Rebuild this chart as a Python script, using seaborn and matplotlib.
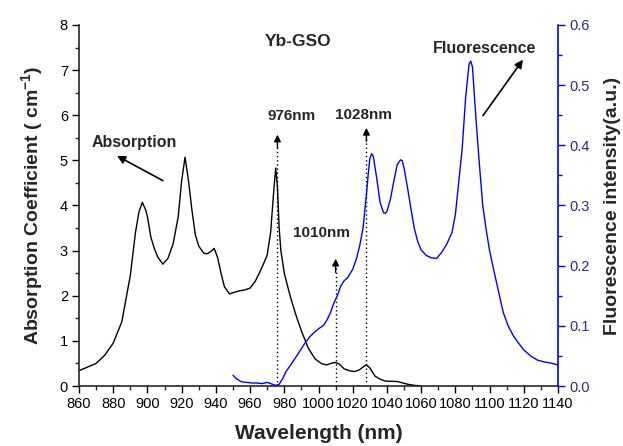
import matplotlib
matplotlib.use("Agg")
import matplotlib.pyplot as plt
import seaborn as sns
import pandas as pd
from matplotlib.ticker import MultipleLocator

# ---- data ----
abs_nm = [860, 865, 870, 875, 880, 885, 890, 893, 895, 897, 899, 900, 902, 904, 906, 909,
          912, 915, 918, 920, 922, 924, 926, 928, 930, 933, 935, 937, 939, 941, 943, 945,
          948, 951, 954, 957, 960, 963, 966, 968, 970, 972, 974, 975, 976, 977, 978, 980,
          982, 984, 987, 990, 994, 998, 1002, 1005, 1008, 1010, 1012, 1015, 1018, 1021,
          1024, 1026, 1028, 1030, 1033, 1036, 1039, 1042, 1046, 1049, 1052, 1056, 1060]
abs_val = [0.34, 0.42, 0.50, 0.68, 0.95, 1.42, 2.45, 3.40, 3.85, 4.07, 3.90, 3.75, 3.30, 3.05,
           2.86, 2.70, 2.83, 3.15, 3.75, 4.55, 5.07, 4.55, 3.90, 3.35, 3.10, 2.94, 2.93, 2.98,
           3.05, 2.85, 2.50, 2.20, 2.04, 2.08, 2.11, 2.13, 2.17, 2.32, 2.55, 2.72, 2.90, 3.40,
           4.40, 4.83, 4.40, 3.50, 3.00, 2.50, 2.20, 1.92, 1.55, 1.22, 0.84, 0.60, 0.49, 0.47,
           0.51, 0.52, 0.49, 0.38, 0.34, 0.32, 0.36, 0.42, 0.47, 0.40, 0.22, 0.15, 0.11, 0.105,
           0.10, 0.07, 0.04, 0.015, 0.0]

fl_nm = [950, 952, 955, 958, 961, 964, 967, 970, 972, 975, 977, 979, 981, 984, 987, 990, 992,
         995, 997, 1000, 1003, 1005, 1007, 1009, 1011, 1013, 1015, 1017, 1020, 1022, 1024,
         1026, 1028, 1029, 1030, 1031, 1032, 1034, 1036, 1038, 1039, 1040, 1042, 1044, 1046,
         1048, 1049, 1050, 1052, 1054, 1056, 1058, 1060, 1063, 1066, 1069, 1072, 1075, 1078,
         1080, 1082, 1084, 1086, 1088, 1089, 1090, 1092, 1094, 1096, 1098, 1100, 1102, 1105,
         1108, 1111, 1114, 1117, 1120, 1124, 1128, 1132, 1136, 1140]
fl_val = [0.018, 0.012, 0.007, 0.006, 0.005, 0.005, 0.004, 0.006, 0.004, 0.001, 0.003, 0.012,
          0.024, 0.036, 0.049, 0.062, 0.071, 0.082, 0.088, 0.095, 0.101, 0.110, 0.122, 0.138,
          0.150, 0.166, 0.175, 0.180, 0.194, 0.210, 0.232, 0.262, 0.318, 0.350, 0.378, 0.386,
          0.382, 0.346, 0.305, 0.288, 0.287, 0.290, 0.310, 0.340, 0.368, 0.376, 0.374, 0.362,
          0.330, 0.295, 0.262, 0.240, 0.226, 0.217, 0.213, 0.212, 0.222, 0.236, 0.255, 0.285,
          0.340, 0.395, 0.480, 0.535, 0.540, 0.530, 0.445, 0.370, 0.300, 0.260, 0.225, 0.198,
          0.160, 0.122, 0.099, 0.083, 0.071, 0.060, 0.050, 0.043, 0.040, 0.038, 0.035]

x_ticks = list(range(860, 1141, 20))
left_ticks = list(range(0, 9))
right_ticks = [0.0, 0.1, 0.2, 0.3, 0.4, 0.5, 0.6]

peaks = [976, 1010, 1028]
peak_labels = ["976nm", "1010nm", "1028nm"]

# ---- style ----
sns.set_style("ticks")
plt.rcParams["font.family"] = ["Liberation Sans", "DejaVu Sans"]
plt.rcParams["mathtext.fontset"] = "custom"
plt.rcParams["mathtext.rm"] = "Liberation Sans"
plt.rcParams["mathtext.bf"] = "Liberation Sans:bold"

fig = plt.figure(figsize=(6.23, 4.46), dpi=100)
ax = fig.add_axes([0.1268, 0.1345, 0.7689, 0.8095])
ax2 = ax.twinx()

df_abs = pd.DataFrame({"nm": abs_nm, "val": abs_val})
df_fl = pd.DataFrame({"nm": fl_nm, "val": fl_val})

sns.lineplot(data=df_abs, x="nm", y="val", ax=ax, color="black", lw=1.0,
             estimator=None, sort=False)
sns.lineplot(data=df_fl, x="nm", y="val", ax=ax2, color="#0000ff", lw=1.0,
             estimator=None, sort=False)

ax.set_xlim(860, 1140)
ax.set_ylim(0, 8)
ax2.set_ylim(0, 0.6)

ax.set_xticks(x_ticks)
ax.set_xticklabels([str(t) for t in x_ticks])
ax.xaxis.set_minor_locator(MultipleLocator(10))
ax.set_yticks(left_ticks)
ax.yaxis.set_minor_locator(MultipleLocator(0.5))
ax2.set_yticks(right_ticks)
ax2.set_yticklabels([f"{t:.1f}" for t in right_ticks])
ax2.yaxis.set_minor_locator(MultipleLocator(0.05))

ax.tick_params(axis="both", which="major", direction="out", length=5, width=1,
               labelsize=10.5, colors="black", pad=3)
ax.tick_params(axis="both", which="minor", direction="out", length=3, width=1)
ax2.tick_params(axis="y", which="major", direction="out", length=5, width=1,
                labelsize=10.5, color="#0000ff", labelcolor="#2a2a8a", pad=3)
ax2.tick_params(axis="y", which="minor", direction="out", length=3, width=1, color="#0000ff")

for s in ["top", "right"]:
    ax.spines[s].set_visible(False)
for s in ["top", "left", "bottom"]:
    ax2.spines[s].set_visible(False)
ax2.spines["right"].set_color("#0000ff")
ax2.spines["right"].set_linewidth(1.2)
ax.spines["left"].set_linewidth(1.2)
ax.spines["bottom"].set_linewidth(1.2)

ax.set_xlabel("Wavelength (nm)", fontsize=15, fontweight="bold", labelpad=9)
ax.set_ylabel("Absorption Coefficient ( cm$^{\\mathbf{-1}}$)", fontsize=14,
              fontweight="bold", labelpad=10)
ax2.set_ylabel("Fluorescence intensity(a.u.)", fontsize=14, fontweight="bold", labelpad=10)

# dotted peak markers with arrow heads
tips = [5.57, 2.82, 5.72]
label_pos = [(984, 5.99), (1002, 3.39), (1026.3, 6.01)]
for p, tip, lab, (lx, ly) in zip(peaks, tips, peak_labels, label_pos):
    ax.plot([p, p], [0, tip - 0.2], ls=(0, (1, 2)), color="black", lw=1)
    ax.annotate("", xy=(p, tip), xytext=(p, tip - 0.3),
                arrowprops=dict(arrowstyle="-|>", color="black", lw=1,
                                mutation_scale=10, shrinkA=0, shrinkB=0))
    ax.text(lx, ly, lab, ha="center", va="center", fontsize=11, fontweight="bold")

ax.text(988, 7.63, "Yb-GSO", ha="center", va="center", fontsize=12.5, fontweight="bold")
ax.text(892.4, 5.39, "Absorption", ha="center", va="center", fontsize=11.5, fontweight="bold")
ax.annotate("", xy=(882.2, 5.1), xytext=(909.1, 4.55),
            arrowprops=dict(arrowstyle="-|>", color="black", lw=1.2,
                            mutation_scale=12, shrinkA=0, shrinkB=0))
ax.text(1097, 7.47, "Fluorescence", ha="center", va="center", fontsize=11.5, fontweight="bold")
ax.annotate("", xy=(1119.5, 7.23), xytext=(1096.1, 5.99),
            arrowprops=dict(arrowstyle="-|>", color="black", lw=1.2,
                            mutation_scale=12, shrinkA=0, shrinkB=0))

fig.savefig("out.png", dpi=100)
